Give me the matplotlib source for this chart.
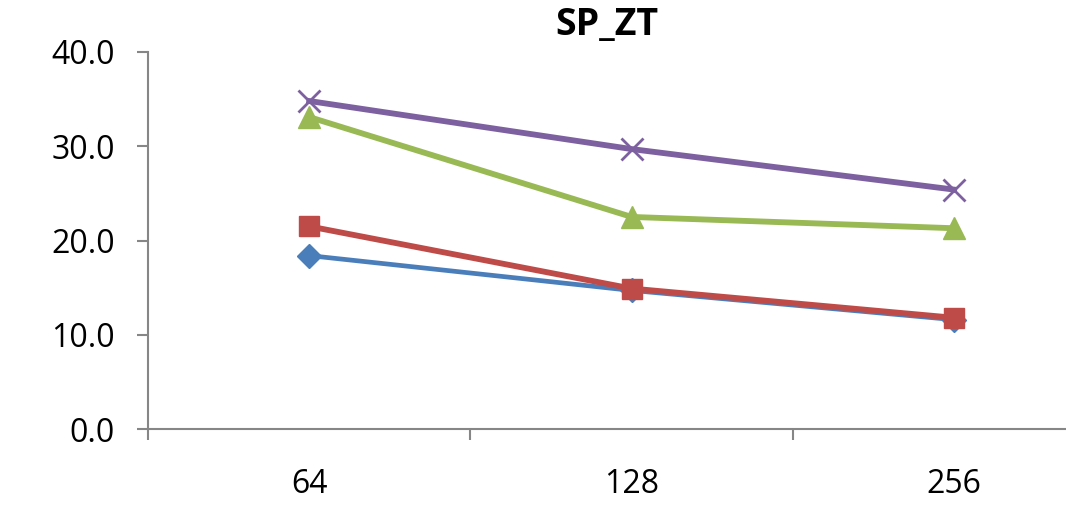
import matplotlib.pyplot as plt
import numpy as np

plt.rcParams['font.family'] = ['Open Sans', 'DejaVu Sans']

# category labels and series values
categories = ['64', '128', '256']
blue_vals = [18.4, 14.7, 11.6]
red_vals = [21.5, 14.9, 11.8]
green_vals = [33.1, 22.5, 21.3]
purple_vals = [34.8, 29.7, 25.4]

yticks = [0, 10, 20, 30, 40]

fig = plt.figure(figsize=(10.66, 5.13), dpi=100)
ax = fig.add_axes([148 / 1066, 1 - 429 / 513, 1 - 148 / 1066, (429 - 52) / 513])

x = np.arange(len(categories))

ax.plot(x, blue_vals, color='#4a7ebb', lw=3.4, marker='D', ms=12, zorder=3)
ax.plot(x, red_vals, color='#be4b48', lw=4.2, marker='s', ms=14, zorder=4)
ax.plot(x, green_vals, color='#98b954', lw=4.2, marker='^', ms=16, zorder=5)
ax.plot(x, purple_vals, color='#7d60a0', lw=4.2, marker='x', ms=16, mew=2, zorder=6)

ax.set_yticks(yticks)
ax.set_yticklabels(['%.1f' % v for v in yticks], fontsize=23)
ax.set_xticks(x)
ax.set_xticklabels(categories, fontsize=23)
ax.tick_params(axis='x', length=0, pad=28)
ax.tick_params(axis='y', length=8, width=1.5, color='#868686', pad=16)
ax.set_xticks([-0.5, 0.5, 1.5, 2.5], minor=True)
ax.tick_params(axis='x', which='minor', length=8, width=1.5, color='#868686')
ax.set_xlim(-0.5, 2.347)
ax.set_ylim(0, 40)

for side in ['top', 'right']:
    ax.spines[side].set_visible(False)
for side in ['left', 'bottom']:
    ax.spines[side].set_color('#868686')
    ax.spines[side].set_linewidth(1.5)

ax.set_title('SP_ZT', fontsize=27, fontweight='bold', pad=12)

fig.savefig('out.png', dpi=100)
